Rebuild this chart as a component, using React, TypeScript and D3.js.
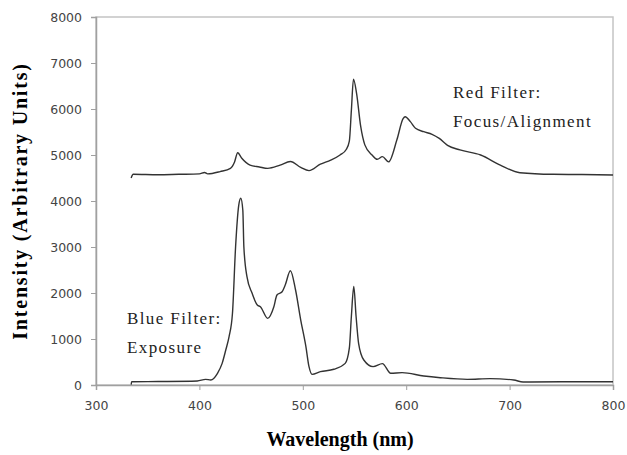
import React, { useEffect, useRef } from 'react';
import * as d3 from 'd3';

// wavelength (nm) / intensity pairs
const redWave = [334, 336, 360, 380, 400, 405, 408, 420, 430, 434, 437, 441, 449, 458, 466, 478, 488, 498, 506, 517, 527, 536, 542, 545, 547, 549, 552, 556, 560, 567, 572, 577, 583, 591, 597, 599, 604, 609, 617, 625, 632, 640, 652, 672, 691, 710, 742, 770, 800];
const redValue = [4500, 4580, 4570, 4580, 4590, 4620, 4590, 4640, 4710, 4850, 5050, 4930, 4780, 4740, 4710, 4780, 4860, 4730, 4660, 4800, 4890, 5000, 5120, 5300, 5980, 6650, 6340, 5620, 5220, 5000, 4906, 4964, 4850, 5330, 5790, 5830, 5725, 5580, 5507, 5450, 5360, 5210, 5110, 5000, 4780, 4615, 4580, 4575, 4565];

const blueWave = [334, 334.5, 360, 398, 406, 411, 417.5, 422, 425.5, 428.7, 432, 435, 438, 440, 442, 443, 446, 451, 456, 459, 466, 472, 475, 480, 483, 488, 493, 498, 503, 506, 509, 517, 530, 541, 545, 547, 549.3, 551.5, 554, 559, 568, 577, 585, 596, 617, 633, 659, 681, 704, 713, 750, 800];
const blueValue = [10, 70, 75, 87, 123, 109, 254, 470, 760, 1050, 1565, 3007, 3900, 4060, 3800, 3007, 2355, 1993, 1739, 1702, 1449, 1702, 1957, 2028, 2174, 2485, 2065, 1413, 833, 398, 232, 290, 342, 470, 800, 1500, 2140, 1500, 900, 543, 400, 465, 254, 268, 196, 159, 123, 138, 109, 65, 70, 72];

const xTicks = [300, 400, 500, 600, 700, 800];
const yTicks = [0, 1000, 2000, 3000, 4000, 5000, 6000, 7000, 8000];

export default function App() {
  const ref = useRef<SVGSVGElement>(null);

  useEffect(() => {
    const svg = d3.select(ref.current);
    svg.selectAll('*').remove();

    const left = 96, right = 613, top = 17, bottom = 385;
    const x = d3.scaleLinear().domain([300, 800]).range([left, right]);
    const y = d3.scaleLinear().domain([0, 8000]).range([bottom, top]);

    // frame
    svg.append('rect')
      .attr('x', left).attr('y', top)
      .attr('width', right - left).attr('height', bottom - top)
      .attr('fill', 'none').attr('stroke', '#c4c4c4').attr('stroke-width', 1.5);

    const xAxis = svg.append('g')
      .attr('transform', `translate(0,${bottom})`)
      .call(d3.axisBottom(x).tickValues(xTicks).tickSize(5).tickPadding(11).tickFormat(d3.format('d')));
    const yAxis = svg.append('g')
      .attr('transform', `translate(${left},0)`)
      .call(d3.axisLeft(y).tickValues(yTicks).tickSize(5).tickPadding(9).tickFormat(d3.format('d')));

    [xAxis, yAxis].forEach(g => {
      g.select('.domain').attr('stroke', '#a0a0a0').attr('stroke-width', 1.5);
      g.selectAll('.tick line').attr('stroke', '#a0a0a0');
      g.selectAll('.tick text')
        .attr('fill', '#444')
        .style('font-family', '"DejaVu Sans", Verdana, sans-serif')
        .style('font-size', '12.5px');
    });

    const line = d3.line<number>()
      .x((d, i) => x(d))
      .curve(d3.curveMonotoneX);

    svg.append('path')
      .attr('d', line.y((d, i) => y(redValue[i]))(redWave))
      .attr('fill', 'none').attr('stroke', '#333').attr('stroke-width', 1.4);

    svg.append('path')
      .attr('d', line.y((d, i) => y(blueValue[i]))(blueWave))
      .attr('fill', 'none').attr('stroke', '#333').attr('stroke-width', 1.4);

    const serif = '"Liberation Serif", "Times New Roman", serif';
    const notes = [
      { t: 'Red Filter:', x: 453, y: 98 },
      { t: 'Focus/Alignment', x: 453, y: 127 },
      { t: 'Blue Filter:', x: 127, y: 324 },
      { t: 'Exposure', x: 127, y: 353 }
    ];
    svg.selectAll('text.note')
      .data(notes)
      .enter()
      .append('text')
      .attr('class', 'note')
      .attr('x', d => d.x).attr('y', d => d.y)
      .attr('fill', '#222')
      .style('font-family', serif)
      .style('font-size', '17px')
      .style('letter-spacing', '1.4px')
      .text(d => d.t);

    svg.append('text')
      .attr('x', 340).attr('y', 446)
      .attr('text-anchor', 'middle')
      .style('font-family', serif).style('font-size', '20px').style('font-weight', 'bold')
      .text('Wavelength (nm)');

    svg.append('text')
      .attr('transform', 'translate(27,201) rotate(-90)')
      .attr('text-anchor', 'middle')
      .style('font-family', serif).style('font-size', '20px').style('font-weight', 'bold')
      .style('letter-spacing', '1.8px')
      .text('Intensity (Arbitrary Units)');
  }, []);

  return (
    <div style={{ position: 'absolute', left: 0, top: 0 }}>
      <svg ref={ref} width={627} height={455} style={{ display: 'block', background: '#fff' }} />
    </div>
  );
}
